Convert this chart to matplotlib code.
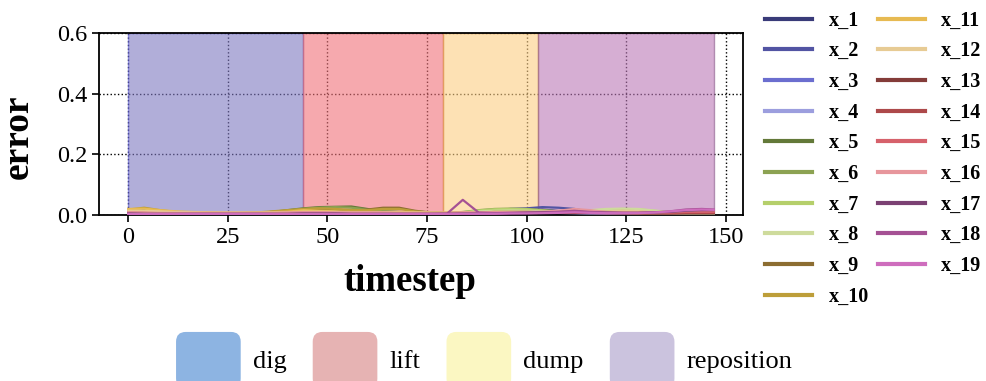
import matplotlib
matplotlib.use('Agg')
import matplotlib.pyplot as plt
from matplotlib.patches import Patch, FancyBboxPatch
from matplotlib.legend_handler import HandlerPatch

plt.rcParams['font.family'] = ['Liberation Serif', 'DejaVu Serif']

# sampled timesteps (every 4 steps, last step 147)
timestep = [0, 4, 8, 12, 16, 20, 24, 28, 32, 36, 40, 44, 48, 52, 56, 60, 64, 68, 72,
            76, 80, 84, 88, 92, 96, 100, 104, 108, 112, 116, 120, 124, 128, 132, 136,
            140, 144, 147]

# error of each state variable
x_1 = [.006, .005, .004, .004, .004, .004, .004, .004, .004, .004, .005, .006, .006, .005, .005, .005, .005, .005, .004,
       .004, .004, .005, .006, .008, .012, .016, .018, .013, .008, .006, .005, .005, .005, .004, .004, .004, .004, .004]
x_2 = [.008, .006, .005, .005, .005, .005, .005, .005, .005, .005, .006, .008, .008, .007, .006, .006, .006, .006, .005,
       .005, .005, .006, .010, .016, .020, .022, .026, .024, .020, .010, .007, .006, .006, .005, .005, .005, .005, .005]
x_3 = [.006, .005, .004, .004, .004, .004, .004, .004, .004, .004, .005, .006, .006, .005, .005, .005, .005, .005, .004,
       .004, .004, .005, .006, .008, .010, .012, .011, .009, .007, .006, .005, .005, .005, .004, .004, .004, .005, .005]
x_4 = [.005, .004, .004, .003, .003, .003, .003, .003, .003, .004, .004, .005, .005, .005, .004, .004, .004, .004, .004,
       .003, .003, .004, .005, .006, .007, .008, .008, .007, .006, .005, .005, .005, .004, .004, .004, .004, .004, .004]
x_5 = [.012, .015, .010, .008, .007, .006, .006, .006, .007, .010, .016, .022, .026, .027, .028, .020, .012, .010, .008,
       .007, .006, .008, .012, .016, .018, .017, .014, .010, .008, .007, .007, .007, .006, .006, .006, .006, .006, .006]
x_6 = [.010, .012, .009, .007, .006, .006, .006, .006, .007, .009, .014, .020, .024, .026, .024, .018, .012, .010, .008,
       .007, .006, .010, .016, .020, .021, .020, .016, .012, .010, .009, .012, .016, .015, .010, .008, .007, .007, .007]
x_7 = [.008, .008, .007, .006, .006, .006, .006, .006, .006, .008, .010, .014, .016, .015, .012, .010, .008, .008, .007,
       .006, .006, .009, .015, .019, .020, .019, .015, .012, .012, .014, .018, .020, .019, .014, .009, .008, .008, .008]
x_8 = [.007, .007, .006, .006, .005, .005, .005, .005, .006, .007, .009, .011, .012, .012, .010, .009, .008, .007, .006,
       .006, .006, .008, .012, .014, .015, .014, .012, .011, .013, .016, .020, .021, .020, .015, .010, .008, .008, .008]
x_9 = [.010, .014, .010, .008, .006, .006, .006, .006, .007, .010, .014, .018, .020, .018, .014, .018, .024, .024, .014,
       .008, .006, .006, .008, .010, .010, .010, .009, .008, .007, .007, .007, .007, .006, .006, .006, .006, .006, .006]
x_10 = [.018, .024, .016, .010, .008, .007, .007, .007, .008, .012, .016, .020, .022, .020, .016, .016, .020, .020, .012,
        .008, .007, .007, .008, .010, .010, .010, .009, .008, .007, .007, .007, .007, .006, .006, .006, .006, .006, .006]
x_11 = [.020, .021, .016, .012, .010, .009, .008, .008, .008, .009, .011, .016, .014, .012, .010, .010, .010, .010, .009,
        .008, .008, .008, .009, .010, .010, .010, .009, .009, .008, .008, .008, .008, .008, .007, .007, .007, .007, .007]
x_12 = [.014, .014, .012, .010, .009, .008, .008, .008, .008, .008, .009, .011, .011, .010, .009, .009, .009, .008, .008,
        .008, .007, .008, .009, .010, .010, .010, .009, .009, .008, .009, .012, .014, .013, .010, .008, .008, .008, .008]
x_13 = [.006, .005, .005, .004, .004, .004, .004, .004, .004, .004, .005, .006, .006, .005, .005, .005, .005, .005, .004,
        .004, .004, .005, .006, .006, .007, .008, .008, .007, .007, .006, .006, .005, .005, .005, .005, .006, .006, .006]
x_14 = [.007, .006, .005, .005, .005, .005, .005, .005, .005, .005, .006, .007, .007, .006, .006, .006, .006, .006, .005,
        .005, .005, .006, .006, .007, .008, .008, .008, .008, .007, .007, .006, .006, .006, .006, .006, .007, .007, .007]
x_15 = [.008, .007, .006, .006, .006, .006, .006, .006, .006, .006, .007, .008, .008, .007, .007, .007, .007, .006, .006,
        .006, .006, .007, .007, .008, .009, .009, .009, .010, .012, .010, .008, .007, .007, .007, .008, .010, .010, .010]
x_16 = [.009, .008, .007, .007, .007, .007, .007, .007, .007, .007, .008, .009, .009, .008, .008, .008, .008, .007, .007,
        .007, .007, .008, .008, .009, .010, .010, .011, .014, .020, .016, .010, .008, .008, .008, .010, .014, .016, .016]
x_17 = [.005, .004, .004, .004, .004, .004, .004, .004, .004, .004, .004, .005, .005, .005, .004, .004, .004, .004, .004,
        .004, .004, .005, .005, .006, .007, .008, .009, .010, .011, .009, .008, .007, .007, .008, .010, .014, .016, .016]
x_18 = [.004, .003, .003, .003, .003, .003, .003, .003, .003, .003, .003, .004, .004, .004, .003, .003, .003, .003, .003,
        .003, .004, .050, .008, .006, .006, .007, .008, .010, .014, .010, .008, .007, .007, .009, .012, .018, .020, .018]
x_19 = [.003, .003, .003, .003, .003, .003, .003, .003, .003, .003, .003, .003, .003, .003, .003, .003, .003, .003, .003,
        .003, .003, .004, .004, .004, .005, .005, .006, .007, .009, .007, .006, .006, .006, .008, .012, .016, .018, .017]

series = [x_1, x_2, x_3, x_4, x_5, x_6, x_7, x_8, x_9, x_10,
          x_11, x_12, x_13, x_14, x_15, x_16, x_17, x_18, x_19]
series_names = ['x_%d' % (i + 1) for i in range(19)]

# task phases
phases = ['dig', 'lift', 'dump', 'reposition']
phase_start = [0, 44, 79, 103]
phase_end = [44, 79, 103, 147]
span_colors = ['#7e78c1', '#f07178', '#fccd82', '#bb78b7']
span_edges = ['#5a5ad0', '#d06070', '#e09a40', '#8a5a8a']
legend_colors = ['#8db4e2', '#e6b3b3', '#fbf7c2', '#cbc3de']


class RoundPatchHandler(HandlerPatch):
    def create_artists(self, legend, orig_handle, xdescent, ydescent,
                       width, height, fontsize, trans):
        p = FancyBboxPatch((-xdescent, -ydescent), width, height,
                           boxstyle='round,pad=0,rounding_size=7',
                           facecolor=orig_handle.get_facecolor(),
                           edgecolor='none', transform=trans)
        return [p]


fig = plt.figure(figsize=(9.86, 3.81), dpi=100)
ax = fig.add_axes([0.1004, 0.4357, 0.6531, 0.4777])

for s, e, c, ec in zip(phase_start, phase_end, span_colors, span_edges):
    ax.axvspan(s, e, facecolor=c, alpha=0.6, edgecolor=ec, lw=1.0, zorder=1)

cmap = plt.get_cmap('tab20b')
lines = []
for i, vals in enumerate(series):
    ln, = ax.plot(timestep, vals, color=cmap(i), lw=1.6, zorder=3)
    lines.append(ln)

ax.set_ylim(0, 0.6)
ax.set_xticks([0, 25, 50, 75, 100, 125, 150])
ax.set_yticks([0.0, 0.2, 0.4, 0.6])
ax.yaxis.set_major_formatter(matplotlib.ticker.FormatStrFormatter('%.1f'))
ax.grid(True, color='black', linestyle=':', lw=1.0, zorder=0)
ax.set_axisbelow(True)
ax.tick_params(labelsize=17.5, width=1.2, length=5)
for sp in ax.spines.values():
    sp.set_linewidth(1.3)

ax.set_xlabel('timestep', fontsize=26.5, fontweight='bold')
ax.set_ylabel('error', fontsize=27, fontweight='bold')
ax.xaxis.set_label_coords(0.483, -0.27)
ax.yaxis.set_label_coords(-0.098, 0.43)

leg = fig.legend(lines, series_names, loc='upper left', bbox_to_anchor=(0.776, 0.972),
                 ncol=2, frameon=False, borderpad=0, borderaxespad=0,
                 prop={'size': 14.5, 'weight': 'bold'}, handlelength=2.35,
                 handletextpad=0.8, columnspacing=0.45, labelspacing=0.53)
for h in leg.get_lines():
    h.set_linewidth(3)

phase_handles = [Patch(facecolor=c) for c in legend_colors]
fig.legend(phase_handles, phases, loc='center', bbox_to_anchor=(0.491, 0.055),
           ncol=4, frameon=False, fontsize=19, handlelength=2.45,
           handleheight=2.9, handletextpad=0.45, columnspacing=1.0,
           handler_map={Patch: RoundPatchHandler()})

fig.savefig('out.png', dpi=100)
